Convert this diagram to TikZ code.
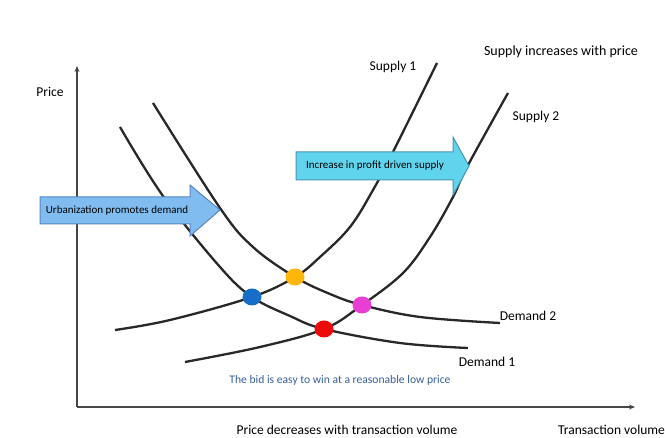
\documentclass[tikz,border=0pt]{standalone}
\usepackage{fontspec}
\setmainfont{Carlito}
\usepackage{tikz}
\usetikzlibrary{calc, shapes, arrows.meta}
\definecolor{curvegray}{RGB}{40,40,40}
\definecolor{axisgray}{RGB}{70,70,70}
\definecolor{urbanfill}{RGB}{128,188,240}
\definecolor{urbanline}{RGB}{85,135,195}
\definecolor{profitfill}{RGB}{95,212,236}
\definecolor{profitline}{RGB}{70,150,185}
\definecolor{dotblue}{RGB}{22,110,200}
\definecolor{dotorange}{RGB}{255,182,10}
\definecolor{dotpink}{RGB}{232,62,212}
\definecolor{dotred}{RGB}{238,10,10}
\definecolor{bidblue}{RGB}{55,95,155}
\tikzstyle{label} = [inner sep=1pt, font=\fontsize{13.5}{16}\selectfont]
\tikzstyle{small} = [inner sep=1pt, font=\fontsize{11}{13}\selectfont]
\tikzstyle{curve} = [line width=2.3pt, curvegray]
\tikzstyle{dot} = [ellipse, minimum width=19pt, minimum height=17pt, inner sep=0pt]

\begin{document}
\begin{tikzpicture}[x=1pt, y=-1pt]
        \useasboundingbox[fill=white] (0, 0) rectangle (665, 438);

        % axes
        \coordinate (origin) at (77, 407);
        \coordinate (ytop) at (77, 66);
        \coordinate (xend) at (635, 407);
        \draw[line width=2pt, axisgray, -{Stealth[length=6pt, width=5pt]}] (origin) -- (ytop);
        \draw[line width=2pt, axisgray, -{Stealth[length=6pt, width=5pt]}] (origin) -- (xend);

        % equilibrium points
        \coordinate (blue) at (252, 297);
        \coordinate (orange) at (295, 277);
        \coordinate (pink) at (362, 305);
        \coordinate (red) at (324, 329);

        % curves
        \draw[curve] plot[smooth, tension=0.6] coordinates {(115, 330) (170, 320) (blue) (orange) (320, 257) (350, 227) (373, 190) (393, 152) (437, 63)};
        \draw[curve] plot[smooth, tension=0.6] coordinates {(185, 362) (260, 347) (red) (pink) (403, 273) (430, 237) (453, 197) (467, 167) (508, 93)};
        \draw[curve] plot[smooth, tension=0.6] coordinates {(120, 127) (163, 196) (220, 267) (blue) (290, 316) (red) (400, 343) (468, 348)};
        \draw[curve] plot[smooth, tension=0.6] coordinates {(153, 103) (220, 208) (253, 247) (orange) (330, 294) (pink) (420, 317) (500, 323)};

        \node[dot, fill=dotblue] (Eblue) at (blue) {};
        \node[dot, fill=dotorange] (Eorange) at (orange) {};
        \node[dot, fill=dotpink] (Epink) at (pink) {};
        \node[dot, fill=dotred] (Ered) at (red) {};

        % shift arrows
        \filldraw[fill=urbanfill, draw=urbanline, line width=1pt] (40, 197) -- (190, 197) -- (190, 185) -- (220, 210) -- (190, 236) -- (190, 224) -- (40, 224) -- cycle;
        \node[small] (urban) at (117, 211) {Urbanization promotes demand};
        \filldraw[fill=profitfill, draw=profitline, line width=1pt] (296, 152) -- (453, 152) -- (453, 137) -- (469, 166) -- (453, 195) -- (453, 180) -- (296, 180) -- cycle;
        \node[small] (profit) at (375, 166) {Increase in profit driven supply};

        % labels
        \node[label] (price) at (50, 92) {Price};
        \node[label] (supply1) at (393, 67) {Supply 1};
        \node[label, font=\fontsize{14}{16}\selectfont] (supplyup) at (561, 52) {Supply increases with price};
        \node[label] (supply2) at (536, 117) {Supply 2};
        \node[label] (demand2) at (528, 316) {Demand 2};
        \node[label] (demand1) at (487, 362) {Demand 1};
        \node[small, text=bidblue, font=\fontsize{11.6}{14}\selectfont] (bid) at (340, 380) {The bid is easy to win at a reasonable low price};
        \node[label] (pricedown) at (347, 430) {Price decreases with transaction volume};
        \node[label, anchor=west] (volume) at (557, 430) {Transaction volume};
    \end{tikzpicture}
\end{document}
